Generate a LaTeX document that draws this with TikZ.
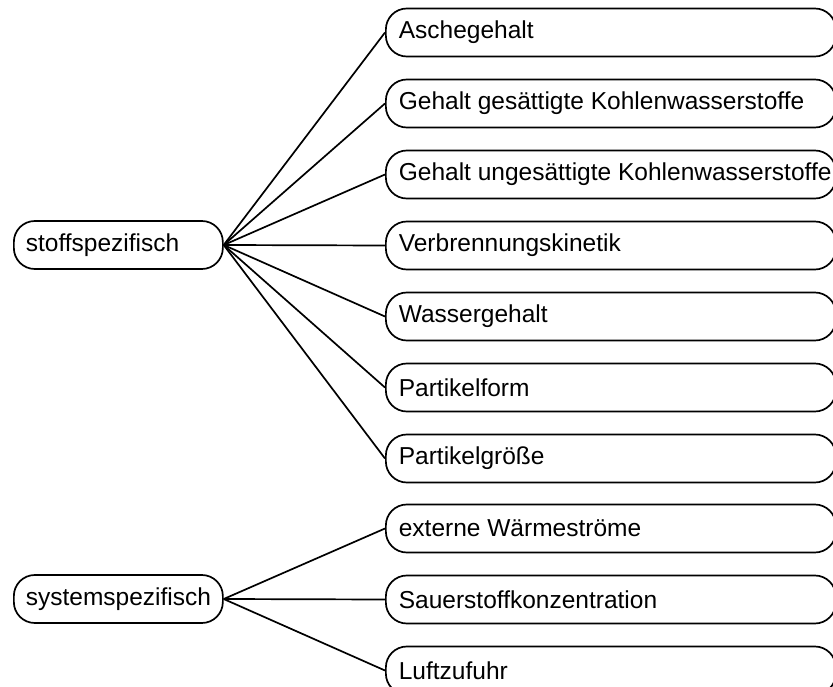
\documentclass[tikz,border=0pt]{standalone}
\usepackage{fontspec}
\setmainfont{Liberation Sans}
% fixed-width, left-aligned label content (may overflow without wrapping)
\newcommand\rootlabel[1]{\makebox[185pt][l]{#1}}
\newcommand\leaflabel[1]{\makebox[424pt][l]{#1}}
\begin{document}
\begin{tikzpicture}[x=1pt,y=-1pt,
  box/.style={draw, line width=1.7pt, rounded corners=21pt, minimum height=48pt,
    inner xsep=13pt, inner ysep=0pt, anchor=west,
    font=\fontsize{24.5}{28}\selectfont},
  rootbox/.style={box, inner xsep=12pt},
  leafbox/.style={box},
  link/.style={line width=1.7pt}]
\useasboundingbox (0,0) rectangle (833,687);
\clip (0,0) rectangle (833,687);

% roots
\node[rootbox] (stoff) at (13,245) {\rootlabel{stoffspezifisch}};
\node[rootbox] (system) at (13,599) {\rootlabel{systemspezifisch}};

% material-specific factors
\node[leafbox] (asche) at (385,32.5) {\leaflabel{Aschegehalt}};
\node[leafbox] (gesaett) at (385,103.5) {\leaflabel{Gehalt gesättigte Kohlenwasserstoffe}};
\node[leafbox] (ungesaett) at (385,174.5) {\leaflabel{Gehalt ungesättigte Kohlenwasserstoffe}};
\node[leafbox] (kinetik) at (385,245.5) {\leaflabel{Verbrennungskinetik}};
\node[leafbox] (wasser) at (385,316.5) {\leaflabel{Wassergehalt}};
\node[leafbox] (form) at (385,387.5) {\leaflabel{Partikelform}};
\node[leafbox] (groesse) at (385,458.5) {\leaflabel{Partikelgröße}};

% system-specific factors
\node[leafbox] (waerme) at (385,528.5) {\leaflabel{externe Wärmeströme}};
\node[leafbox] (sauer) at (385,599.5) {\leaflabel{Sauerstoffkonzentration}};
\node[leafbox] (luft) at (385,670.5) {\leaflabel{Luftzufuhr}};

% connectors
\foreach \c in {asche,gesaett,ungesaett,kinetik,wasser,form,groesse}
  \draw[link] (stoff.east) -- (\c.west);
\foreach \c in {waerme,sauer,luft}
  \draw[link] (system.east) -- (\c.west);
\end{tikzpicture}
\end{document}
